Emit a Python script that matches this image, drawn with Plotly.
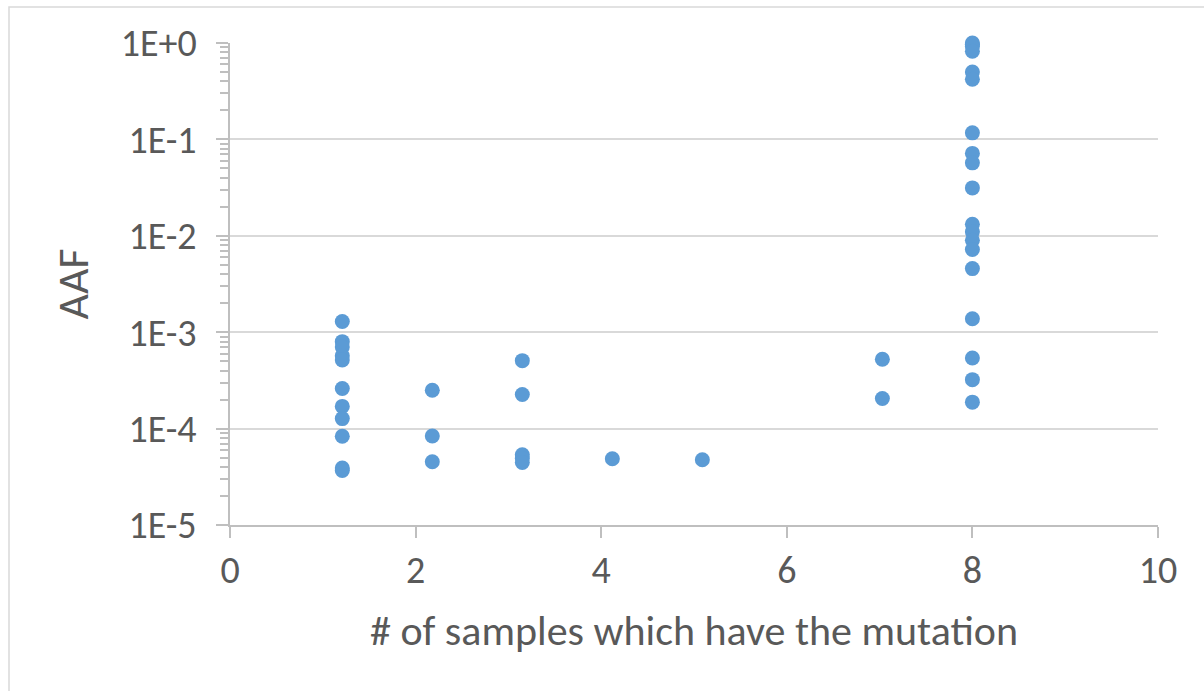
import plotly.graph_objects as go

# ---- data ----
x_col1 = [1.21] * 11
y_col1 = [0.00129, 0.000798, 0.000703, 0.00057, 0.000514, 0.000261, 0.00017,
          0.000127, 0.0000832, 0.0000390, 0.0000368]
x_col2 = [2.18] * 3
y_col2 = [0.00025, 0.0000839, 0.0000453]
x_col3 = [3.15] * 5
y_col3 = [0.000507, 0.000226, 0.0000536, 0.000049, 0.0000446]
x_col4 = [4.12]
y_col4 = [0.0000487]
x_col5 = [5.09]
y_col5 = [0.0000475]
x_col7 = [7.03] * 2
y_col7 = [0.000525, 0.000205]
x_col8 = [8.0] * 19
y_col8 = [1.0, 0.97, 0.92, 0.82, 0.50, 0.42, 0.117, 0.0716, 0.0571, 0.0314,
          0.0132, 0.0110, 0.0090, 0.0072, 0.00457, 0.00138, 0.00054, 0.000322, 0.000188]

x_all = x_col1 + x_col2 + x_col3 + x_col4 + x_col5 + x_col7 + x_col8
y_all = y_col1 + y_col2 + y_col3 + y_col4 + y_col5 + y_col7 + y_col8

y_tickvals = [1e-5, 1e-4, 1e-3, 1e-2, 1e-1, 1e0]
y_ticktext = ["1E-5", "1E-4", "1E-3", "1E-2", "1E-1", "1E+0"]
x_tickvals = [0, 2, 4, 6, 8, 10]

x_title = "# of samples which have the mutation"
y_title = "AAF"

FONT = "Carlito, Lato, 'Open Sans', sans-serif"
GRAY = "#595959"
AXIS = "#BFBFBF"

fig = go.Figure()
fig.add_trace(go.Scatter(
    x=x_all, y=y_all, mode="markers",
    marker=dict(size=15, color="#5B9BD5"),
    cliponaxis=False, showlegend=False,
))

fig.update_layout(
    width=1204, height=691,
    margin=dict(l=230, r=46, t=43, b=166),
    paper_bgcolor="white", plot_bgcolor="white",
    font=dict(family=FONT, color=GRAY),
    shapes=[dict(type="rect", xref="paper", yref="paper",
                 x0=-221 / 928, x1=1.2, y0=-0.5, y1=1 + 36 / 482,
                 line=dict(color="#D9D9D9", width=1.5), layer="below")],
)

fig.update_xaxes(
    range=[0, 10], tickvals=x_tickvals,
    showgrid=False, zeroline=False,
    showline=True, linecolor=AXIS, linewidth=1.5,
    ticks="outside", ticklen=11, tickcolor=AXIS, tickwidth=1.5,
    tickfont=dict(size=38, family=FONT, color=GRAY),
    ticklabelstandoff=0,
    title=dict(text=x_title, font=dict(size=42, family=FONT, color=GRAY), standoff=23),
)
fig.update_yaxes(
    type="log", range=[-5, 0],
    tickvals=y_tickvals, ticktext=y_ticktext,
    showgrid=True, gridcolor="#D9D9D9", gridwidth=1.5,
    zeroline=False,
    showline=True, linecolor=AXIS, linewidth=1.5,
    ticks="outside", ticklen=12, tickcolor=AXIS, tickwidth=1.5,
    minor=dict(ticks="outside", ticklen=8, tickcolor=AXIS, tickwidth=1.5,
               dtick="D1", showgrid=False),
    tickfont=dict(size=38, family=FONT, color=GRAY),
    ticklabelstandoff=12,
    title=dict(text=y_title, font=dict(size=44, family=FONT, color=GRAY), standoff=18),
)

fig.write_html("out.html")
